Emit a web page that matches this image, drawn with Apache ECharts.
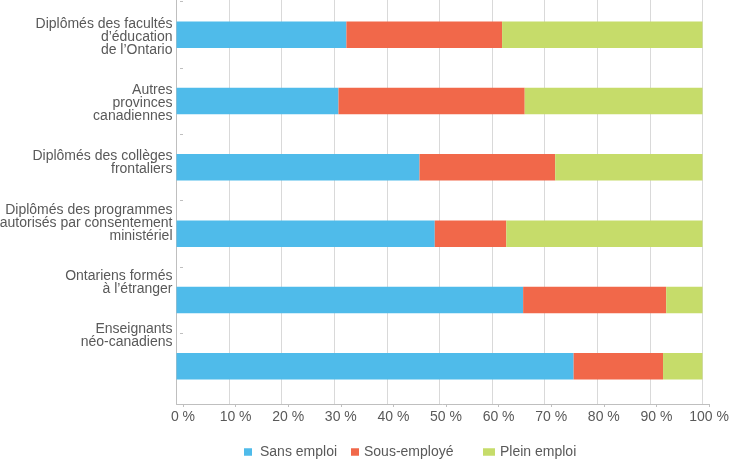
<!DOCTYPE html>
<html><head><meta charset="utf-8">
<script src="https://cdn.jsdelivr.net/npm/echarts@6/dist/echarts.min.js"></script>
<style>html,body{margin:0;padding:0;background:#fff}#c{width:730px;height:461px}</style>
</head><body><div id="c"></div>
<script>
// ---- data ----
const categories = [
  'Diplômés des facultés\nd’éducation\nde l’Ontario',
  'Autres\nprovinces\ncanadiennes',
  'Diplômés des collèges\nfrontaliers',
  'Diplômés des programmes\nautorisés par consentement\nministériel',
  'Ontariens formés\nà l’étranger',
  'Enseignants\nnéo-canadiens'
];
const seriesNames = ['Sans emploi', 'Sous-employé', 'Plein emploi'];
const sansEmploi  = [32.3, 30.8, 46.2, 49.1, 65.9, 75.5];
const sousEmploye = [29.6, 35.4, 25.8, 13.6, 27.2, 17.0];
const pleinEmploi = [38.1, 33.8, 28.0, 37.3, 6.9, 7.5];
const xTickValues = [0, 10, 20, 30, 40, 50, 60, 70, 80, 90, 100];
const xTickSuffix = ' %';

// ---- styles ----
const colors = ['#4FBBEA', '#F1684A', '#C6DC6A'];
const labelLiftLines = [0, 0, 1, 2, 3, 5];
const FONT = "'Liberation Sans', Arial, sans-serif";
const FS = 14;
const TEXT = '#595959';
const GRIDC = '#D9D9D9';
const AXISC = '#BFBFBF';

const chart = echarts.init(document.getElementById('c'), null, {renderer: 'canvas'});
const seriesData = [sansEmploi, sousEmploye, pleinEmploi];

const legendPos = [
  {left: 244, w: 8, h: 7.5, pad: [0, 0, 0, 3]},
  {left: 351, w: 8, h: 7.5, pad: 0},
  {left: 483, w: 12, h: 7.5, pad: 0}
];

chart.setOption({
  animation: false,
  textStyle: {fontFamily: FONT},
  grid: [
    {left: 176.5, width: 526, top: 1.5, height: 398, outerBoundsMode: 'none'},
    {left: 176.5, width: 526, top: 0, height: 404, outerBoundsMode: 'none'},
    {left: 176.5, width: 532.5, top: 0, height: 404, outerBoundsMode: 'none'},
    {left: 176.5, width: 526, top: 3.5, height: 398, outerBoundsMode: 'none'}
  ],
  legend: seriesNames.map((n, i) => ({
    data: [n], left: legendPos[i].left, top: 445, padding: 0,
    itemWidth: legendPos[i].w, itemHeight: legendPos[i].h, icon: 'rect',
    textStyle: {color: TEXT, fontSize: FS, fontFamily: FONT, padding: legendPos[i].pad}
  })),
  xAxis: [
    {type: 'value', gridIndex: 0, min: 0, max: 100, show: false, splitLine: {show: false}},
    {type: 'value', gridIndex: 1, min: 0, max: 100, interval: 10,
     axisLine: {show: false}, axisTick: {show: false}, axisLabel: {show: false},
     splitLine: {show: true, lineStyle: {color: GRIDC, width: 1}}},
    {type: 'value', gridIndex: 2, min: -1.236, max: 100,
     axisLine: {show: true, lineStyle: {color: AXISC, width: 1}},
     axisTick: {show: true, customValues: xTickValues, length: 3, lineStyle: {color: AXISC}},
     axisLabel: {show: true, customValues: xTickValues, formatter: v => v + xTickSuffix,
                 color: TEXT, fontSize: FS, fontFamily: FONT, margin: 6},
     splitLine: {show: false}},
    {type: 'value', gridIndex: 3, min: 0, max: 100, show: false, splitLine: {show: false}}
  ],
  yAxis: [
    {type: 'category', gridIndex: 0, inverse: true, position: 'left', data: categories,
     show: false},
    {type: 'value', gridIndex: 0, inverse: true, position: 'left', offset: -3.5,
     min: 0, max: categories.length,
     axisLine: {show: false}, axisLabel: {show: false}, splitLine: {show: false},
     axisTick: {show: true, inside: true, length: 3, customValues: categories.map((c, i) => i),
                lineStyle: {color: AXISC}}},
    {type: 'value', gridIndex: 1, min: 0, max: 1, position: 'left',
     axisLine: {show: true, lineStyle: {color: AXISC, width: 1}},
     axisTick: {show: false}, axisLabel: {show: false}, splitLine: {show: false}},
    {type: 'value', gridIndex: 2, min: 0, max: 1, show: false, splitLine: {show: false}},
    {type: 'category', gridIndex: 3, inverse: true, position: 'left', data: categories,
     axisLine: {show: false}, axisTick: {show: false}, splitLine: {show: false},
     axisLabel: {interval: 0, color: TEXT, fontSize: FS, lineHeight: 13, fontFamily: FONT,
                 margin: 4, align: 'right',
                 formatter: (v, i) => v + '\n'.repeat(labelLiftLines[i])}}
  ],
  series: seriesNames.map((n, i) => ({
    name: n, type: 'bar', stack: 'total', xAxisIndex: 0, yAxisIndex: 0,
    barWidth: '40%', data: seriesData[i], itemStyle: {color: colors[i]}
  }))
});
</script></body></html>
